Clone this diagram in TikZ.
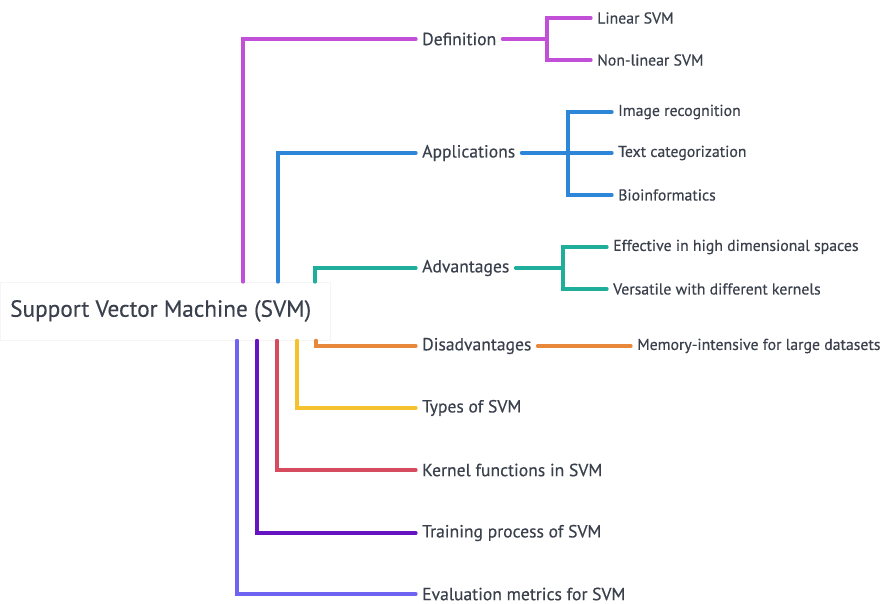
\documentclass[tikz,border=0pt]{standalone}
\usepackage{fontspec}
\setmainfont{PT Sans}[FakeBold=0.35]
\begin{document}
\begin{tikzpicture}[x=1pt,y=-1pt,
  txt/.style={text=textgrey, inner xsep=6pt, inner ysep=0pt, anchor=west, font=\fontsize{17.6}{20}\selectfont},
  leaf/.style={txt, font=\fontsize{15.8}{18}\selectfont},
  link/.style={line width=3.2pt, line cap=round},
  cMag/.style={link, draw=cmag}, cBlue/.style={link, draw=cblue},
  cTeal/.style={link, draw=cteal}, cOrange/.style={link, draw=corange},
  cYellow/.style={link, draw=cyellow}, cRed/.style={link, draw=cred},
  cPurple/.style={link, draw=cpurple}, cViolet/.style={link, draw=cviolet}]
\definecolor{textgrey}{HTML}{3A404C}
\definecolor{cmag}{HTML}{C24FD8}
\definecolor{cblue}{HTML}{2E86D8}
\definecolor{cteal}{HTML}{1FAE9B}
\definecolor{corange}{HTML}{E8883A}
\definecolor{cyellow}{HTML}{F6C12E}
\definecolor{cred}{HTML}{D64C5E}
\definecolor{cpurple}{HTML}{6613C2}
\definecolor{cviolet}{HTML}{6F63F2}

\useasboundingbox[fill=white] (0,0) rectangle (881,604);

% root topic
\node[draw=black!4, fill=white, minimum width=330pt, minimum height=58pt,
      inner sep=0pt, anchor=north west] (root) at (0,282) {};
\node[text=textgrey, anchor=west, inner sep=0pt, font=\fontsize{23.3}{26}\selectfont]
      (roottxt) at (10,311) {Support Vector Machine (SVM)};

% main topics
\node[txt] (def)  at (416,39)  {Definition};
\node[txt] (app)  at (416,153) {Applications};
\node[txt] (adv)  at (416,268) {Advantages};
\node[txt] (dis)  at (416,346) {Disadvantages};
\node[txt] (typ)  at (416,408) {Types of SVM};
\node[txt] (ker)  at (416,470) {Kernel functions in SVM};
\node[txt] (trn)  at (416,533) {Training process of SVM};
\node[txt] (evl)  at (416,594) {Evaluation metrics for SVM};

% sub topics
\node[leaf] (lin)  at (591,18)  {Linear SVM};
\node[leaf] (nlin) at (591,60)  {Non-linear SVM};
\node[leaf] (img)  at (612,112) {Image recognition};
\node[leaf] (tcat) at (612,153) {Text categorization};
\node[leaf] (bio)  at (612,195) {Bioinformatics};
\node[leaf] (eff)  at (607,247) {Effective in high dimensional spaces};
\node[leaf] (ver)  at (607,289) {Versatile with different kernels};
\node[leaf] (mem)  at (631,346) {Memory-intensive for large datasets};

% root -> main topics
\draw[cMag]    ([xshift=243pt]root.north west) |- (def.west);
\draw[cBlue]   ([xshift=278pt]root.north west) |- (app.west);
\draw[cTeal]   ([xshift=315pt]root.north west) |- (adv.west);
\draw[cOrange] ([xshift=316pt]root.south west) |- (dis.west);
\draw[cYellow] ([xshift=297pt]root.south west) |- (typ.west);
\draw[cRed]    ([xshift=277pt]root.south west) |- (ker.west);
\draw[cPurple] ([xshift=257pt]root.south west) |- (trn.west);
\draw[cViolet] ([xshift=237pt]root.south west) |- (evl.west);

% main topics -> sub topics
\coordinate (jdef) at (547,39);
\draw[cMag] (def.east) -- (jdef) |- (lin.west);
\draw[cMag] (jdef) |- (nlin.west);

\coordinate (japp) at (568,153);
\draw[cBlue] (app.east) -- (japp) -- (tcat.west);
\draw[cBlue] (japp) |- (img.west);
\draw[cBlue] (japp) |- (bio.west);

\coordinate (jadv) at (563,268);
\draw[cTeal] (adv.east) -- (jadv) |- (eff.west);
\draw[cTeal] (jadv) |- (ver.west);

\draw[cOrange] (dis.east) -- (mem.west);
\end{tikzpicture}
\end{document}
